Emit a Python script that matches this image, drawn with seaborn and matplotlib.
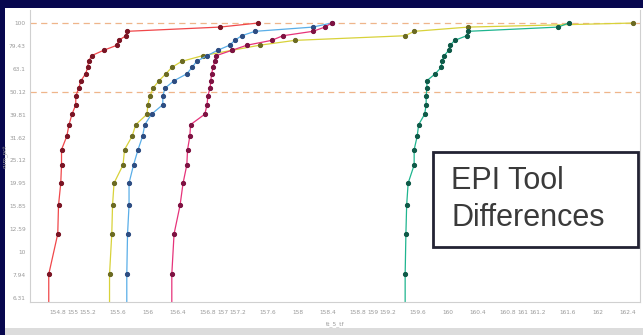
"""
EPI tool differences - cumulative percent curves per tool
"""

import numpy as np
import pandas as pd
import matplotlib
matplotlib.use('Agg')
import matplotlib.pyplot as plt
from matplotlib.patches import Rectangle
import seaborn as sns

# cumulative percent (y) shared by every tool
pct = [4, 8, 12, 16, 20, 24, 28, 32, 36, 40, 44, 48, 52,
       56, 60, 64, 68, 72, 76, 80, 84, 88, 92, 96, 100]

# sorted values (x) per tool
tool_red = [154.68, 154.68, 154.80, 154.81, 154.84, 154.85, 154.85, 154.92, 154.95,
            154.99, 155.04, 155.04, 155.08, 155.11, 155.17, 155.20, 155.21, 155.25,
            155.41, 155.59, 155.61, 155.71, 155.72, 156.96, 157.47]
tool_yellow = [155.49, 155.49, 155.52, 155.53, 155.55, 155.67, 155.69, 155.79, 155.84,
               155.99, 156.00, 156.03, 156.07, 156.15, 156.24, 156.32, 156.45, 156.73,
               157.12, 157.49, 157.96, 159.43, 159.55, 160.27, 162.47]
tool_blue = [155.72, 155.72, 155.73, 155.75, 155.75, 155.81, 155.87, 155.93, 155.96,
             156.05, 156.20, 156.20, 156.23, 156.35, 156.52, 156.59, 156.65, 156.79,
             156.93, 157.09, 157.16, 157.25, 157.43, 158.20, 158.45]
tool_pink = [156.32, 156.32, 156.35, 156.43, 156.47, 156.52, 156.53, 156.56, 156.57,
             156.76, 156.79, 156.80, 156.83, 156.84, 156.85, 156.87, 156.89, 156.91,
             157.12, 157.32, 157.65, 157.80, 158.20, 158.36, 158.45]
tool_green = [159.43, 159.43, 159.44, 159.45, 159.47, 159.55, 159.55, 159.59, 159.61,
              159.69, 159.71, 159.71, 159.72, 159.72, 159.83, 159.91, 159.92, 159.95,
              160.01, 160.03, 160.09, 160.25, 160.27, 161.47, 161.61]

tools = ['A', 'B', 'C', 'D', 'E']
line_colors = ['#f0474a', '#d8d23a', '#5aaee8', '#e6337a', '#1fb58f']
marker_colors = ['#7a1424', '#6b6a22', '#2d4d82', '#7e1242', '#0e5a48']

ytick_vals = [6.31, 7.94, 10, 12.59, 15.85, 19.95, 25.12, 31.62, 39.81, 50.12, 63.1, 79.43, 100]
xtick_vals = [154.8, 155, 155.2, 155.6, 156, 156.4, 156.8, 157, 157.2, 157.6, 158, 158.4,
              158.8, 159, 159.2, 159.6, 160, 160.4, 160.8, 161, 161.2, 161.6, 162, 162.4]
ref_levels = [100, 50]

df = pd.concat([
    pd.DataFrame({'value': xs, 'pct': pct, 'tool': t})
    for xs, t in zip([tool_red, tool_yellow, tool_blue, tool_pink, tool_green], tools)
], ignore_index=True)

navy = '#07074e'
fig = plt.figure(figsize=(6.43, 3.35), dpi=100, facecolor=navy)

# white slide panel + grey strip at the bottom
fig.patches.append(Rectangle((5 / 643, 7 / 335), 638 / 643, 320 / 335,
                             transform=fig.transFigure, facecolor='white',
                             edgecolor='none', zorder=-5))
fig.patches.append(Rectangle((5 / 643, 0), 638 / 643, 7 / 335,
                             transform=fig.transFigure, facecolor='#dcdcdc',
                             edgecolor='none', zorder=-5))

ax = fig.add_axes([30 / 643, 33 / 335, 610 / 643, 292 / 335])
ax.set_facecolor('white')

sns.lineplot(data=df, x='value', y='pct', hue='tool', palette=line_colors,
             estimator=None, sort=False, linewidth=0.9, marker='o',
             markersize=3.0, legend=False, ax=ax)

for line, mc in zip(ax.lines, marker_colors):
    line.set_markerfacecolor(mc)
    line.set_markeredgecolor(mc)

for lvl in ref_levels:
    ax.axhline(lvl, color='#efb58a', linewidth=0.9, dashes=(5, 3.5), zorder=0.5)

ax.set_yscale('log')
ax.set_ylim(6.05, 114)
ax.set_xlim(154.43, 162.56)
ax.minorticks_off()
ax.set_yticks(ytick_vals)
ax.set_yticklabels([f'{v:g}' for v in ytick_vals])
ax.set_xticks(xtick_vals)
ax.set_xticklabels([f'{v:g}' for v in xtick_vals])
ax.tick_params(axis='x', labelsize=4.2, colors='#9a9a9a', length=0, pad=6)
ax.tick_params(axis='y', labelsize=4.2, colors='#9a9a9a', length=0, pad=3)
ax.set_xlabel('tt_5_tf', fontsize=4.2, color='#9a9a9a', labelpad=4)
ax.set_ylabel('cum_pct', fontsize=4.0, color='#9a9a9a')
ax.yaxis.set_label_coords(-0.037, 0.5)

ax.spines['top'].set_visible(False)
for side in ['left', 'bottom', 'right']:
    ax.spines[side].set_color('#d0d0d0')
    ax.spines[side].set_linewidth(0.8)

# annotation box
fig.patches.append(Rectangle((433 / 643, 1 - 247 / 335), 205 / 643, 95 / 335,
                             transform=fig.transFigure, facecolor='white',
                             edgecolor='#222233', linewidth=2, zorder=5))
fig.text(451 / 643, 1 - 166 / 335, 'EPI Tool\nDifferences', fontsize=22,
         family='Liberation Sans', color='#3a3a3a', linespacing=1.3,
         va='top', ha='left', zorder=6)

plt.savefig('out.png', dpi=100, facecolor=navy)
